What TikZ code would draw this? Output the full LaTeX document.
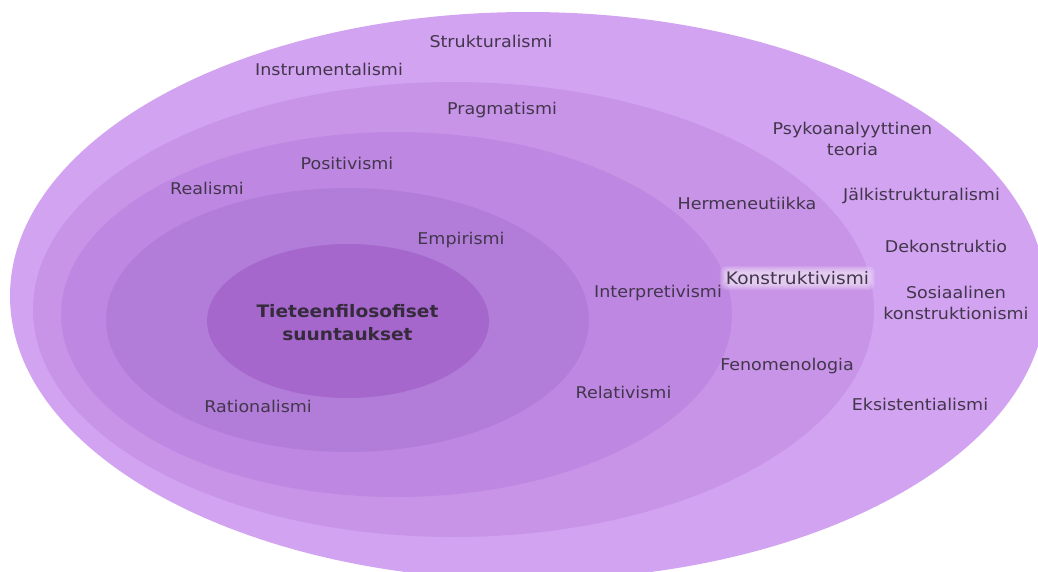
\documentclass[tikz,border=0pt]{standalone}
\usepackage{fontspec}
\setmainfont{DejaVu Sans}[FakeStretch=1.08]
\definecolor{ringA}{RGB}{210,163,240}
\definecolor{ringB}{RGB}{200,148,232}
\definecolor{ringC}{RGB}{190,136,226}
\definecolor{ringD}{RGB}{178,125,216}
\definecolor{ringE}{RGB}{165,103,204}
\definecolor{txt}{RGB}{66,54,76}
\definecolor{halo}{RGB}{250,244,252}
\pgfdeclarelayer{bg}
\pgfdeclarelayer{glow}
\pgfsetlayers{bg,glow,main}
\begin{document}
\begin{tikzpicture}[x=1pt,y=-1pt,
  lbl/.style={text=txt,font=\fontsize{16.2}{21}\selectfont,align=center,inner sep=0pt},
  big/.style={lbl,font=\fontsize{17.2}{21}\selectfont},
  core/.style={text=txt!80!black,font=\fontsize{17.2}{23}\selectfont\bfseries,align=center,inner sep=0pt}]
\useasboundingbox (0,0) rectangle (1038,571);
\begin{pgfonlayer}{bg}
\clip (0,0) rectangle (1038,571);
\fill[ringA] (528,296) ellipse [x radius=518, y radius=284];
\fill[ringB] (453.5,309.5) ellipse [x radius=420.5, y radius=227.5];
\fill[ringC] (396.5,314.5) ellipse [x radius=335.5, y radius=182.5];
\fill[ringD] (347.5,320) ellipse [x radius=241.5, y radius=132];
\fill[ringE] (348,321) ellipse [x radius=141, y radius=77];
\end{pgfonlayer}
\node[core] (core) at (347.5,323) {Tieteenfilosofiset\\suuntaukset};
\node[lbl] (strukt) at (491,41) {Strukturalismi};
\node[lbl] (instr) at (329,69) {Instrumentalismi};
\node[lbl] (pragm) at (502,110) {Pragmatismi};
\node[lbl] (psyko) at (852.5,139) {Psykoanalyyttinen\\teoria};
\node[lbl] (posit) at (347,163) {Positivismi};
\node[lbl] (real) at (207,188) {Realismi};
\node[lbl] (herm) at (747,203) {Hermeneutiikka};
\node[lbl] (jalki) at (921.5,196) {Jälkistrukturalismi};
\node[lbl] (empir) at (461,240) {Empirismi};
\node[lbl] (dekon) at (946,246) {Dekonstruktio};
\node[big] (konst) at (797.5,278) {Konstruktivismi};
\node[lbl] (interp) at (658,293) {Interpretivismi};
\node[lbl] (sosi) at (956,303) {Sosiaalinen\\konstruktionismi};
\node[lbl] (fenom) at (787,366) {Fenomenologia};
\node[lbl] (relat) at (623.5,392) {Relativismi};
\node[lbl] (ratio) at (258,406) {Rationalismi};
\node[lbl] (eksis) at (920,404) {Eksistentialismi};
\begin{pgfonlayer}{glow}
\foreach \i in {0,1,...,6}
  \fill[halo,opacity=0.12,rounded corners=6pt]
    ([xshift=-\i pt,yshift=-\i pt+1pt]konst.south west) rectangle
    ([xshift=\i pt,yshift=\i pt-1pt]konst.north east);
\end{pgfonlayer}
\end{tikzpicture}
\end{document}
